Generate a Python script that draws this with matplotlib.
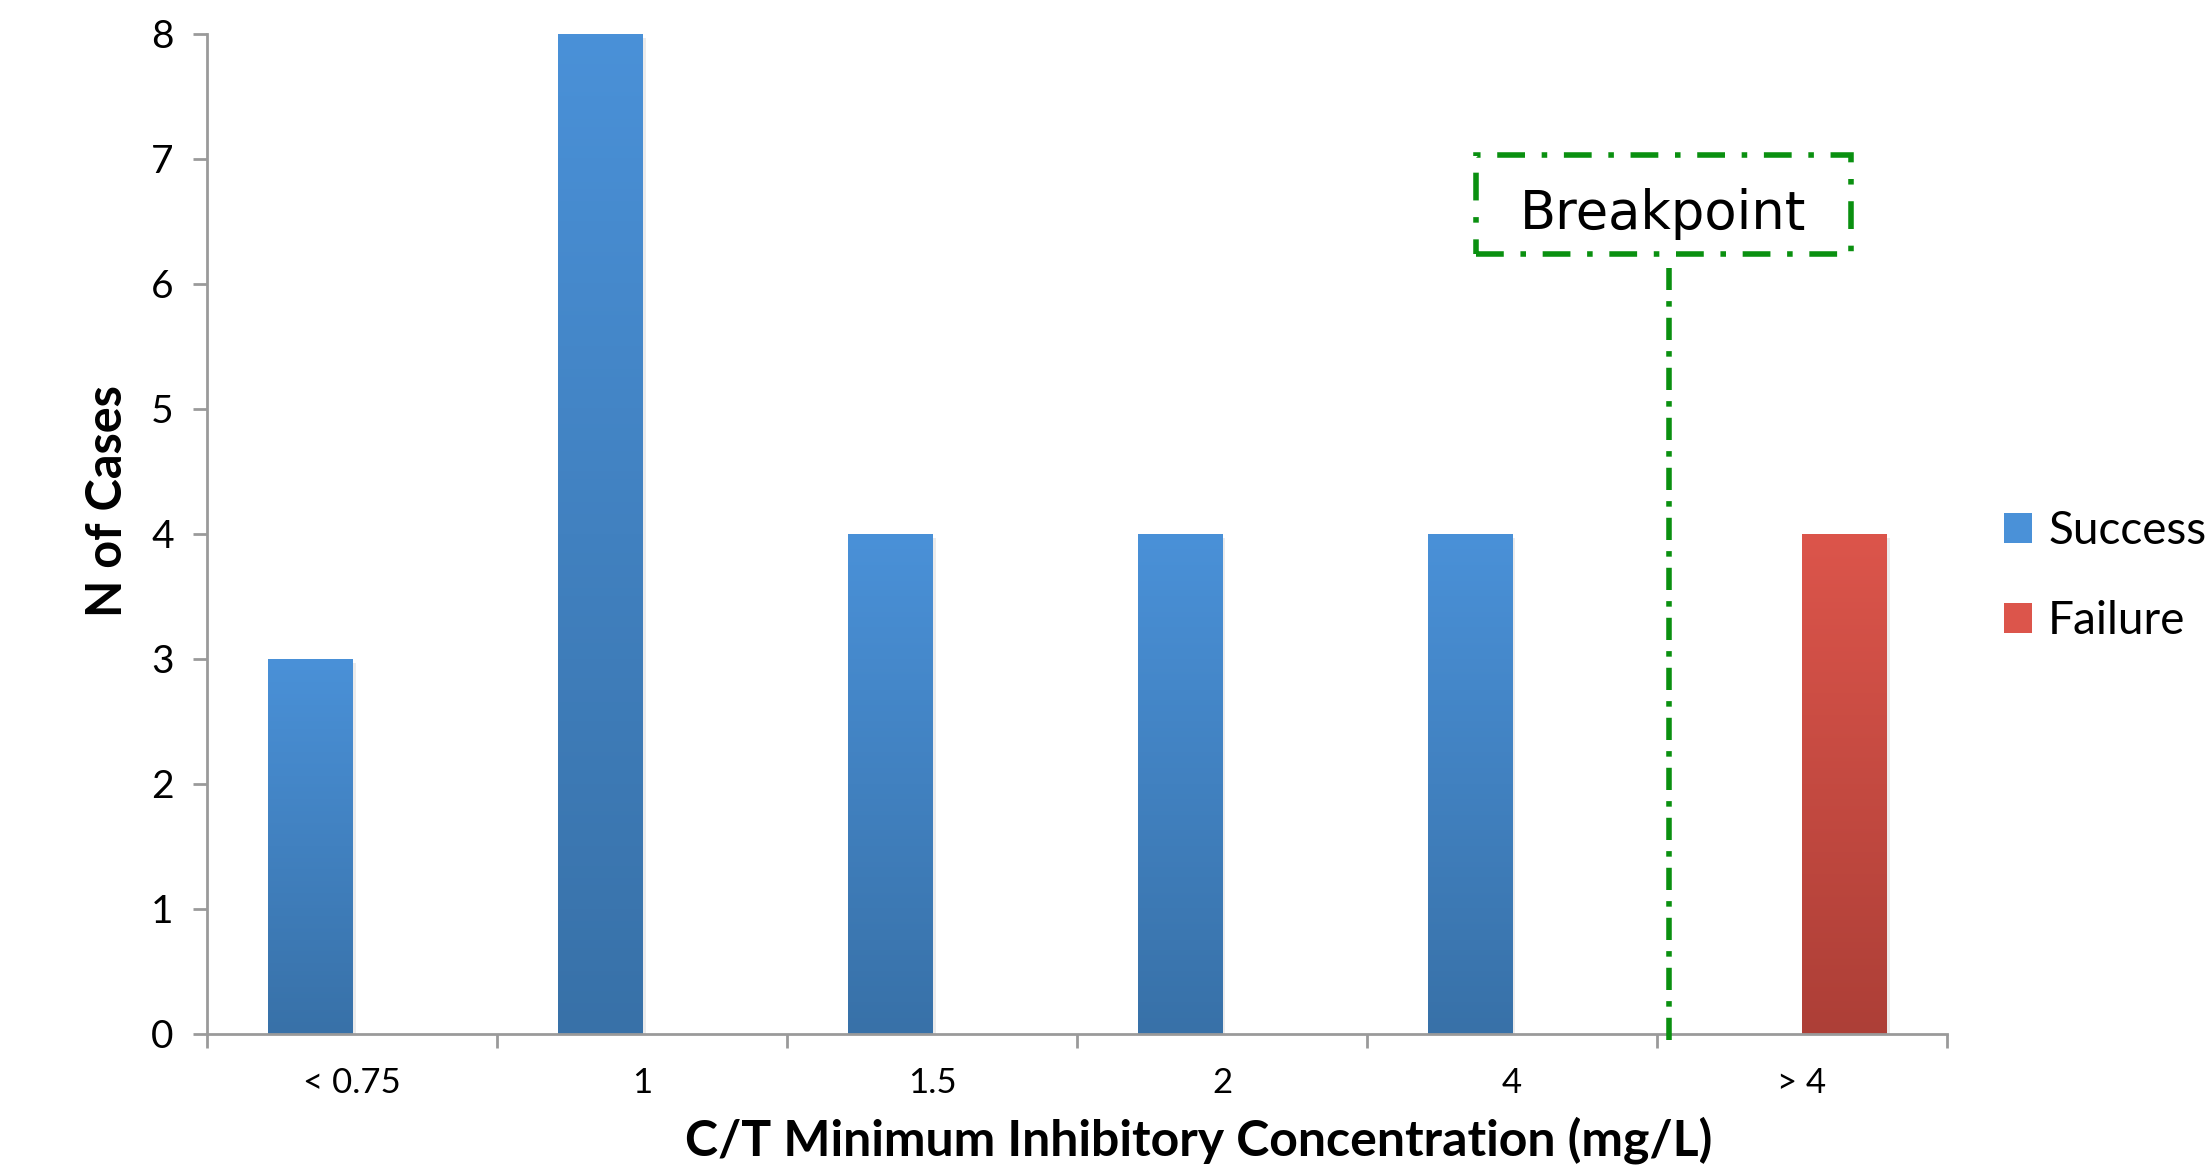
import numpy as np
import matplotlib
matplotlib.use('Agg')
import matplotlib.pyplot as plt
from matplotlib.colors import LinearSegmentedColormap
from matplotlib.patches import Rectangle, Patch

plt.rcParams['font.family'] = ['Lato', 'DejaVu Sans']

# data
categories = ['< 0.75', '1', '1.5', '2', '4', '> 4']
success = [3, 8, 4, 4, 4, 0]
failure = [0, 0, 0, 0, 0, 4]
breakpoint_pos = 4.54   # between "4" and "> 4"

blue_top, blue_bottom = '#4a91d8', '#3871a8'
red_top, red_bottom = '#dc554b', '#ad3f37'
axis_grey = '#9a9a9a'
green = '#0a9010'


def gradient_bars(ax, bars, top, bottom):
    cmap = LinearSegmentedColormap.from_list('g', [bottom, top])
    grad = np.linspace(0, 1, 256).reshape(-1, 1)
    for bar in bars:
        x, y = bar.get_xy()
        w, h = bar.get_width(), bar.get_height()
        if h <= 0:
            continue
        # soft shadow
        ax.add_patch(Rectangle((x + 0.012, y), w, h - 0.03, facecolor='#000000',
                               alpha=0.08, edgecolor='none', zorder=1))
        img = ax.imshow(grad, extent=[x, x + w, y, y + h], origin='lower',
                        cmap=cmap, aspect='auto', zorder=2)
        img.set_clip_path(bar)
        bar.set_facecolor('none')


fig = plt.figure(figsize=(22.12, 11.71), dpi=100)
ax = fig.add_axes([0.0936, 0.117, 0.7866, 0.854])

x = np.arange(len(categories))
width = 0.29
b1 = ax.bar(x - width / 2, success, width, color=blue_top, edgecolor='none', zorder=2)
b2 = ax.bar(x + width / 2, failure, width, color=red_top, edgecolor='none', zorder=2)
gradient_bars(ax, b1, blue_top, blue_bottom)
gradient_bars(ax, b2, red_top, red_bottom)

ax.set_xlim(-0.5, len(categories) - 0.5)
ax.set_ylim(0, 8)

# breakpoint marker
ax.plot([breakpoint_pos, breakpoint_pos], [-0.05, 6.13], color=green, lw=4,
        ls=(0, (4, 2, 1, 2)), zorder=3, clip_on=False)
ax.add_patch(Rectangle((3.875, 6.24), 1.294, 0.79, facecolor='white', edgecolor=green,
                       lw=4, ls=(0, (5, 3, 1, 3)), zorder=3))
ax.text(4.52, 6.56, 'Breakpoint', ha='center', va='center', fontsize=38,
        family=['DejaVu Sans'], zorder=4)

# axes styling
for s in ['top', 'right']:
    ax.spines[s].set_visible(False)
for s in ['left', 'bottom']:
    ax.spines[s].set_color(axis_grey)
    ax.spines[s].set_linewidth(2)

ax.set_yticks(range(0, 9))
ax.tick_params(axis='y', length=10, width=2, color=axis_grey, labelsize=28, pad=14)
ax.set_xticks(x)
ax.set_xticklabels(categories)
ax.set_xticks(np.arange(-0.5, len(categories)), minor=True)
ax.tick_params(axis='x', which='major', length=0, labelsize=25, pad=24)
ax.tick_params(axis='x', which='minor', length=10, width=2, color=axis_grey)

ax.set_ylabel('N of Cases', fontsize=35, fontweight='bold', labelpad=22)
ax.yaxis.set_label_coords(-0.044, 0.533)
ax.set_xlabel('C/T Minimum Inhibitory Concentration (mg/L)', fontsize=36,
              fontweight='bold', labelpad=14)
ax.xaxis.set_label_coords(0.570, -0.082)

handles = [Patch(facecolor=blue_top, edgecolor='none', label='Success'),
           Patch(facecolor=red_top, edgecolor='none', label='Failure')]
fig.legend(handles=handles, loc='center left', bbox_to_anchor=(0.906, 0.508),
           frameon=False, fontsize=33, handlelength=0.62, handleheight=0.62,
           handletextpad=0.34, labelspacing=1.05, borderpad=0, borderaxespad=0)

fig.savefig('out.png', dpi=100)
